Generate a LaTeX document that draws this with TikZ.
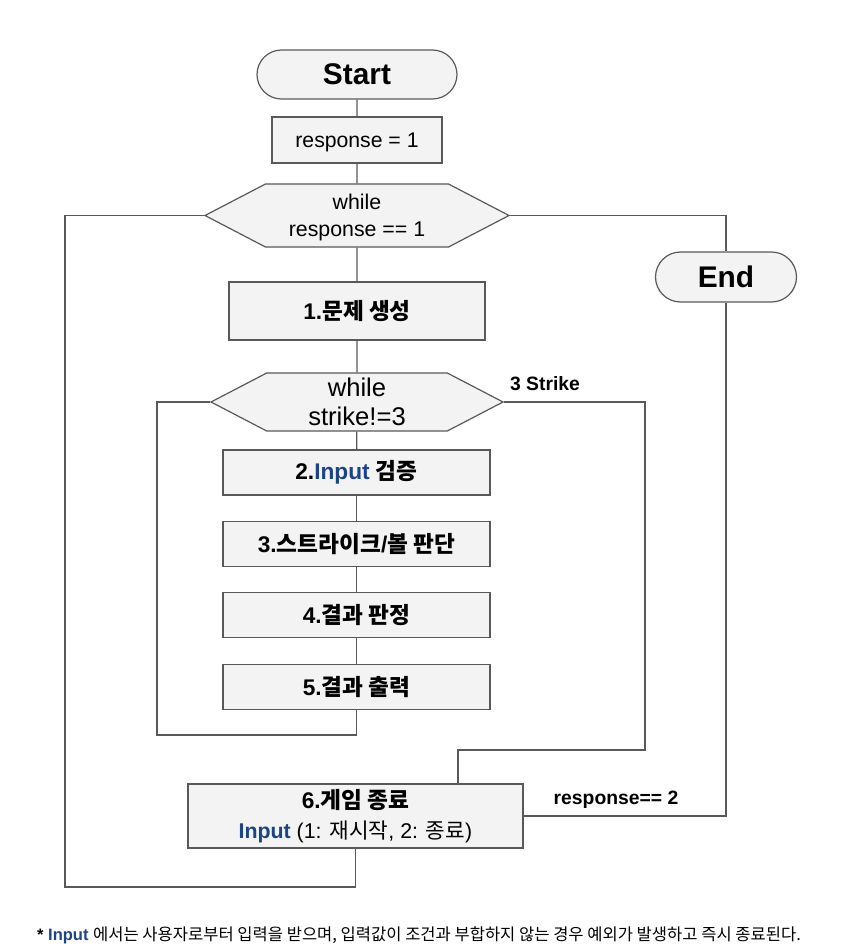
\documentclass[tikz,border=0pt]{standalone}
\usepackage{fontspec}
\setmainfont{Liberation Sans}
\newfontfamily\hangulfont{Noto Sans CJK KR}
\usetikzlibrary{shapes.misc,shapes.symbols}
\definecolor{trait}{HTML}{595959}
\definecolor{fond}{HTML}{F3F3F3}
\definecolor{bleuinput}{HTML}{1C4587}
\newcommand{\ko}[1]{{\hangulfont #1}}
\newcommand{\inp}{{\color{bleuinput}\textbf{Input}}}

\begin{document}
\begin{tikzpicture}[x=0.75pt, y=-0.75pt]
			\tikzset{terminal/.style={rounded rectangle, draw=trait, fill=fond, line width=0.9pt, inner sep=0pt, font=\bfseries\fontsize{22.4}{25}\selectfont},
				boite/.style={rectangle, draw=trait, fill=fond, line width=0.9pt, inner sep=0pt, align=center, font=\bfseries\fontsize{17}{23}\selectfont},
				hexa/.style={signal, signal to=east and west, signal pointer angle=55, draw=trait, fill=fond, line width=0.9pt, inner sep=0pt, align=center},
				ligne/.style={draw=trait, line width=0.9pt},
				etiquette/.style={font=\bfseries\fontsize{14.5}{17}\selectfont}};

			\useasboundingbox (0,0) rectangle (854,952);

			\node[terminal, minimum width=150pt, minimum height=36.75pt] (start) at (357, 74.5) {Start};
			\node[boite, minimum width=127.5pt, minimum height=34.5pt, text depth=0pt, font=\fontsize{15.9}{18}\selectfont] (init) at (357,140) {response = 1};
			\node[hexa, minimum width=228pt, minimum height=47.25pt, text depth=0pt, font=\fontsize{16}{20}\selectfont] (boucle1) at (357,215.5) {while\\response == 1};
			\node[terminal, minimum width=105.75pt, minimum height=37.5pt] (fin) at (726,277) {End};
			\node[boite, minimum width=192pt, minimum height=43.5pt] (etape1) at (357,311) {1.\ko{문제 생성}};
			\node[hexa, minimum width=219pt, minimum height=43.5pt, font=\fontsize{19.2}{22}\selectfont] (boucle2) at (357,402) {while\\strike!=3};
			\node[boite, minimum width=200.25pt, minimum height=33.75pt] (etape2) at (356.5,472.5) {2.\inp{} \ko{검증}};
			\node[boite, minimum width=200.25pt, minimum height=33.75pt] (etape3) at (356.5,544) {3.\ko{스트라이크}/\ko{볼 판단}};
			\node[boite, minimum width=200.25pt, minimum height=33.75pt] (etape4) at (356.5,615) {4.\ko{결과 판정}};
			\node[boite, minimum width=200.25pt, minimum height=33.75pt] (etape5) at (356.5,687) {5.\ko{결과 출력}};
			\node[boite, minimum width=251.25pt, minimum height=48pt] (etape6) at (355.5,816) {6.\ko{게임 종료}\\\fontsize{16}{23}\selectfont\inp{} \mdseries(1: \ko{재시작}, 2: \ko{종료})};

			\node[etiquette] (trois) at (545,384) {3 Strike};
			\node[etiquette] (rep2) at (616,800) {response== 2};

			\node[font=\fontsize{12.4}{15}\selectfont] (note) at (419,935) {\textbf{*} \inp{} \ko{에서는 사용자로부터 입력을 받으며, 입력값이 조건과 부합하지 않는 경우 예외가 발생하고 즉시 종료된다.}};

			\draw[ligne] (start) -- (init);
			\draw[ligne] (init) -- (boucle1);
			\draw[ligne] (boucle1) -- (etape1);
			\draw[ligne] (etape1) -- (boucle2);
			\draw[ligne] (boucle2) -- (etape2);
			\draw[ligne] (etape2) -- (etape3);
			\draw[ligne] (etape3) -- (etape4);
			\draw[ligne] (etape4) -- (etape5);
			\draw[ligne] (etape5.south) |- (157,735) |- (boucle2.west);
			\draw[ligne] (boucle2.east) -| (645,750) -| ([xshift=76.9pt]etape6.north);
			\draw[ligne] (etape6.south) |- (65,887) |- (boucle1.west);
			\draw[ligne] (etape6.east) -| (fin.south);
			\draw[ligne] (boucle1.east) -| (fin.north);

		\end{tikzpicture}
\end{document}
